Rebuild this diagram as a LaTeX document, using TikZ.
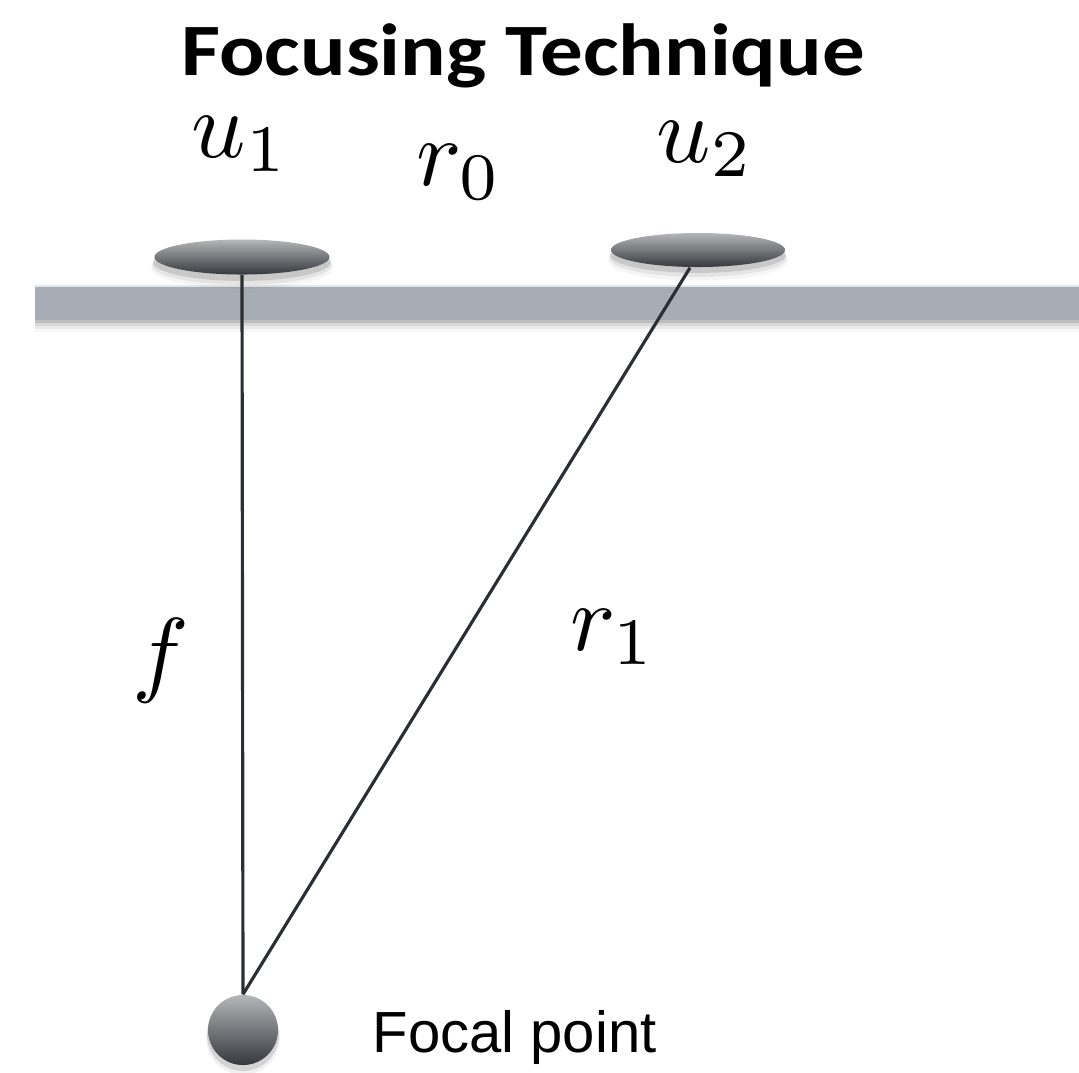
\documentclass[tikz,border=0pt]{standalone}
\usepackage{graphicx}
\usepackage{fontspec}
\newfontfamily\titlefont{Carlito}
\newfontfamily\labelfont{Liberation Sans}
\usetikzlibrary{shapes.geometric}
\definecolor{barcol}{HTML}{A7ADB4}
\definecolor{linecol}{HTML}{2B2E33}
\definecolor{shtop}{HTML}{B4B6B9}
\definecolor{shbot}{HTML}{35383D}
\newcommand{\biglbl}[1]{\scalebox{2.7}{$#1$}}
\tikzset{
  transducer/.style={ellipse, draw=none, inner sep=0pt, minimum width=1.75cm, minimum height=0.35cm, top color=shtop, bottom color=shbot},
  mathlbl/.style={inner sep=0pt, font=\normalsize},
  ray/.style={draw=linecol, line width=0.9pt},
}
\begin{document}
\begin{tikzpicture}[x=0.01cm, y=-0.01cm]
\useasboundingbox (0,0) rectangle (1079,1072);
% title
\node[anchor=base, inner sep=0pt, font=\titlefont\bfseries\fontsize{21}{25}\selectfont] (title) at (523,75) {\scalebox{1.15}[1]{Focusing Technique}};
% bar with soft shadow
\foreach \d/\o in {3/0.12,6/0.08,9/0.05,12/0.03} {
  \fill[black, opacity=\o] (35,290) rectangle (1079,320+\d);
}
\fill[barcol] (35,285) rectangle (1079,320);
\draw[white!70!barcol, line width=0.6pt] (35,286) -- (1079,286);
% transducer shadows
\foreach \d/\o in {3/0.12,6/0.07,9/0.04} {
  \fill[black, opacity=\o] (242,259+\d) ellipse [x radius=88+\d*0.3, y radius=18+\d*0.3];
  \fill[black, opacity=\o] (698,252+\d) ellipse [x radius=87+\d*0.3, y radius=17+\d*0.3];
}
\node[transducer] (e1) at (242,257) {};
\node[transducer, minimum height=0.34cm, minimum width=1.74cm] (e2) at (698,250) {};
% focal point
\foreach \d/\o in {3/0.12,6/0.06} {
  \fill[black, opacity=\o] (243,1032+\d) circle [radius=35+\d*0.3];
}
\node[circle, draw=none, inner sep=0pt, minimum size=0.7cm, top color=shtop, bottom color=shbot] (fp) at (243,1030) {};
\node[anchor=base west, inner sep=0pt, font=\labelfont\fontsize{16.5}{20}\selectfont] (fplbl) at (372,1052) {Focal point};
% rays
\draw[ray] (e1.south) -- (fp.north);
\draw[ray] ([xshift=-0.08cm]e2.south) -- (fp.north);
% labels
\node[mathlbl, anchor=base west] (u1) at (191,157) {\biglbl{u_1}};
\node[mathlbl, anchor=base west] (r0) at (416,185) {\biglbl{r_0}};
\node[mathlbl, anchor=base west] (u2) at (656,162) {\biglbl{u_2}};
\node[mathlbl, anchor=base] (f) at (161,684) {\biglbl{f}};
\node[mathlbl, anchor=base west] (r1) at (570,650) {\biglbl{r_1}};
\end{tikzpicture}
\end{document}
